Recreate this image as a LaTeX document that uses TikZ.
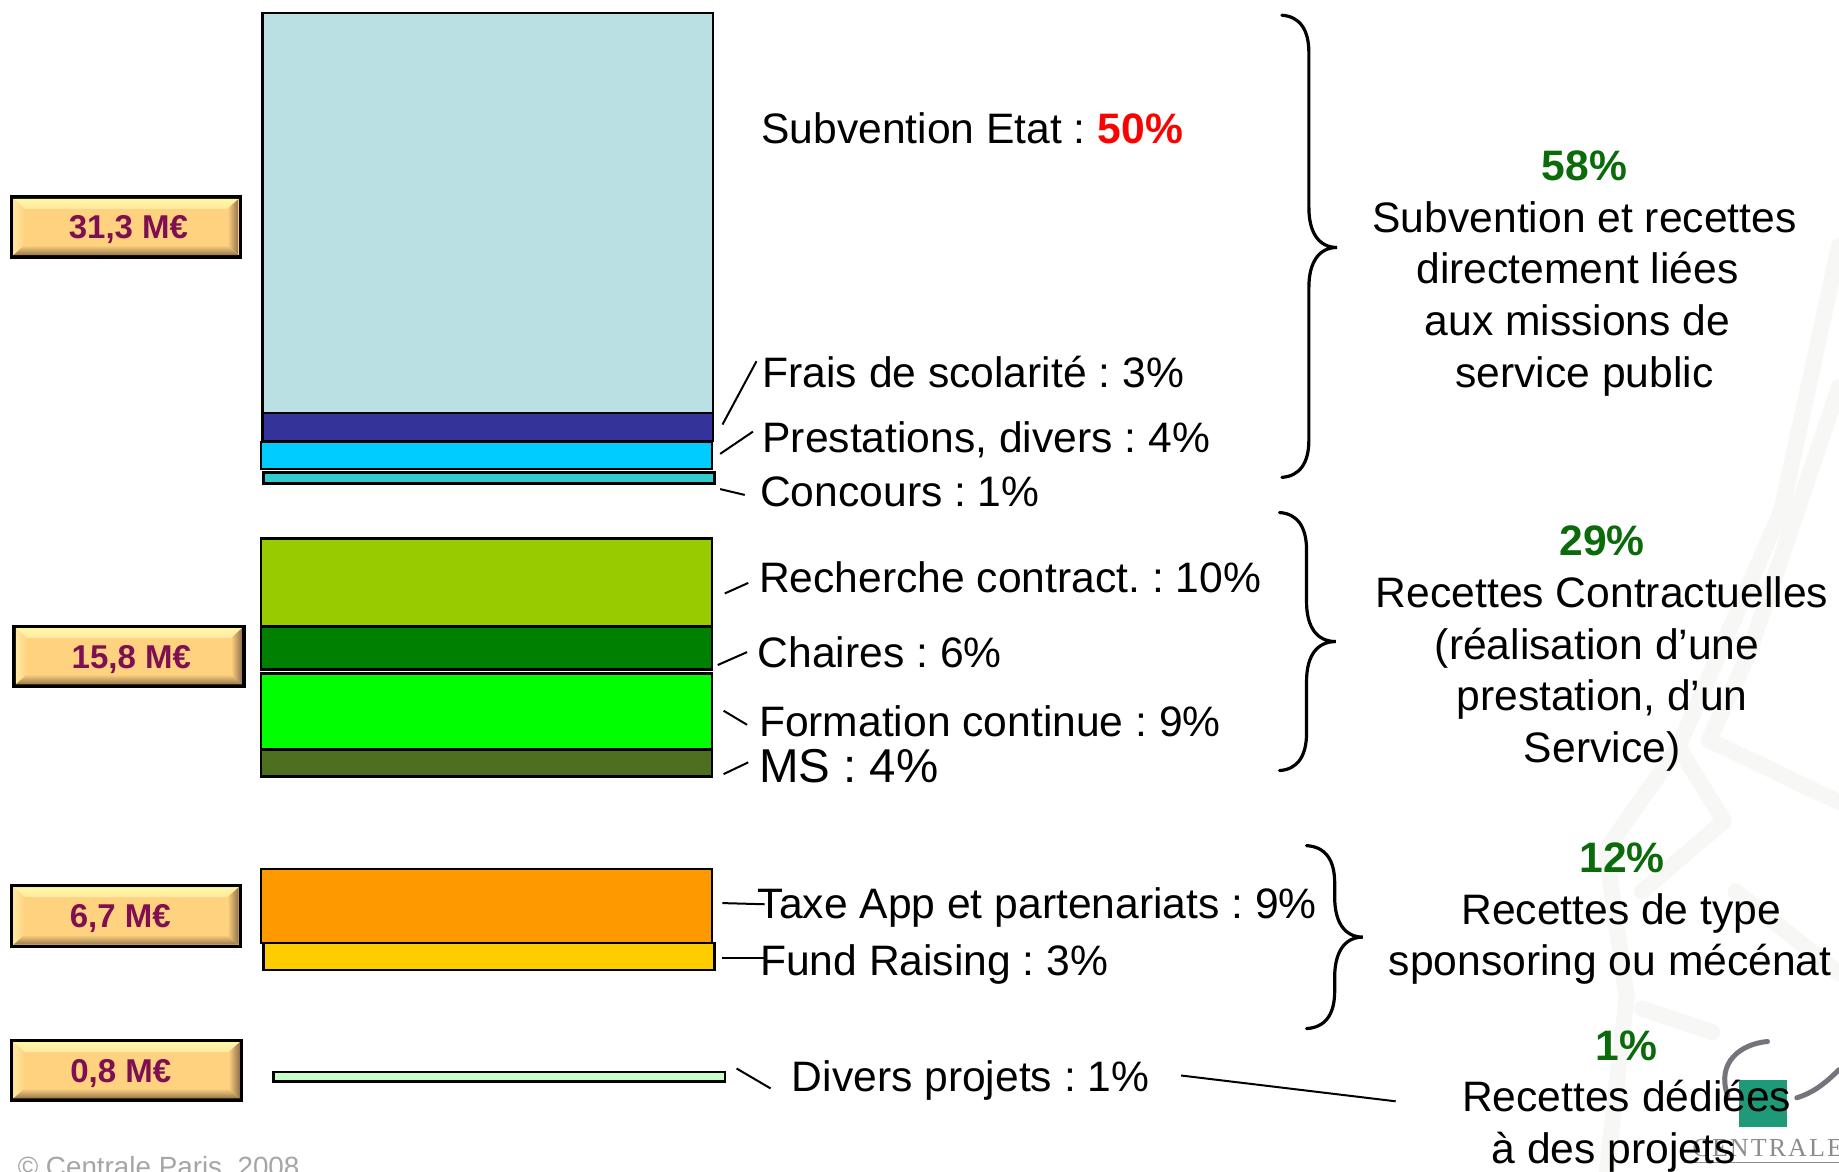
\documentclass[tikz,border=0pt]{standalone}
\usepackage{fontspec}
\setmainfont{Liberation Sans}
\newfontfamily\logofont[LetterSpace=8]{Liberation Serif}
\frenchspacing
\usetikzlibrary{calc}
\definecolor{wine}{HTML}{7F0F50}
\definecolor{pctgreen}{HTML}{0B6B0B}
\definecolor{btn}{HTML}{FFD280}
\definecolor{btnT}{HTML}{FFF8A8}
\definecolor{btnL}{HTML}{FFE8A0}
\definecolor{btnR}{HTML}{8E704A}
\definecolor{btnB}{HTML}{96784C}
\definecolor{wm}{HTML}{F7F7F5}
\definecolor{logogreen}{HTML}{1E9A78}
\definecolor{logogray}{HTML}{74747C}
\definecolor{cA}{HTML}{BAE0E4}
\definecolor{cB}{HTML}{333399}
\definecolor{cC}{HTML}{00CCFF}
\definecolor{cD}{HTML}{33CCCC}
\definecolor{cE}{HTML}{99CC00}
\definecolor{cF}{HTML}{008000}
\definecolor{cG}{HTML}{00FF00}
\definecolor{cH}{HTML}{4C701F}
\definecolor{cI}{HTML}{FF9900}
\definecolor{cJ}{HTML}{FFCC00}
\definecolor{cK}{HTML}{C6FFC6}
\tikzset{
  x=1.1728pt,y=-1.1728pt,
  bar/.style={draw=black,line width=2.6pt,inner sep=0pt,outer sep=0pt,anchor=north west},
  lbl/.style={anchor=base west,inner sep=0pt,font=\fontsize{42.6}{51.6}\selectfont},
  grp/.style={anchor=base,inner sep=0pt,align=center,font=\fontsize{42.6}{51.6}\selectfont},
  btnbox/.style={draw=black,line width=3.4pt,fill=btn,inner sep=0pt,outer sep=0pt,anchor=north west},
  btntext/.style={inner sep=0pt,text=wine,font=\fontsize{33}{38}\selectfont\bfseries},
  tick/.style={draw=black,line width=2pt},
  bracestyle/.style={draw=black,line width=3.2pt,line cap=round},
  wmline/.style={draw=wm,line width=16pt,line cap=round,line join=round}
}
\newcommand{\pct}[1]{{\color{pctgreen}\bfseries #1}}
\newcommand{\trail}[1]{\hspace*{#1}\mbox{}}
% button: name, x0, y0, x1, y1, text, text shift x
\newcommand{\btnshape}[7]{%
  \node[btnbox,minimum width=(#4-#2)*1.1728pt,minimum height=(#5-#3)*1.1728pt] (#1) at (#2,#3) {};
  \shade[top color=btnT,bottom color=btnL] (#2+1.5,#3+1.5) -- (#4-1.5,#3+1.5) -- (#4-11,#3+10) -- (#2+11,#3+10) -- cycle;
  \shade[left color=btnL,right color=btn] (#2+1.5,#3+1.5) -- (#2+11,#3+10) -- (#2+11,#5-10) -- (#2+1.5,#5-1.5) -- cycle;
  \shade[left color=btn,right color=btnR] (#4-1.5,#3+1.5) -- (#4-11,#3+10) -- (#4-11,#5-10) -- (#4-1.5,#5-1.5) -- cycle;
  \shade[top color=btn,bottom color=btnB] (#2+1.5,#5-1.5) -- (#2+11,#5-10) -- (#4-11,#5-10) -- (#4-1.5,#5-1.5) -- cycle;
  \node[btntext] (#1t) at ($(#1.center)+(#7,2.5)$) {#6};
}
% bar: name, x0, y0, x1, y1, colour
\newcommand{\barshape}[6]{%
  \node[bar,fill=#6,minimum width=(#4-#2)*1.1728pt,minimum height=(#5-#3)*1.1728pt] (#1) at (#2,#3) {};
}
% brace: name, tail x, spine x, tip x, y0, ytip, y1
\newcommand{\bracket}[7]{%
  \coordinate (#1a) at (#2,#5);
  \coordinate (#1t) at (#4,#6);
  \coordinate (#1b) at (#2,#7);
  \draw[bracestyle] (#1a) .. controls (#3-8,#5+1) and (#3,#5+12) .. (#3,#5+32)
    -- (#3,#6-34) .. controls (#3,#6-12) and (#3+9,#6) .. (#1t)
    .. controls (#3+9,#6) and (#3,#6+12) .. (#3,#6+34)
    -- (#3,#7-32) .. controls (#3,#7-12) and (#3-8,#7-1) .. (#1b);
}
% tick: name, x0, y0, x1, y1
\newcommand{\ticktwo}[5]{%
  \coordinate (#1a) at (#2,#3);
  \coordinate (#1b) at (#4,#5);
  \draw[tick] (#1a) -- (#1b);
}
\begin{document}
\begin{tikzpicture}
\useasboundingbox (0,0) rectangle (1568,999);
\fill[white] (0,0) rectangle (1568,999);
% faint watermark
\draw[wmline] (1568,210) -- (1519,435) -- (1431,637) -- (1369,725) -- (1387,850) -- (1370,999);
\draw[wmline] (1568,330) -- (1490,560) -- (1457,631) -- (1568,684);
\draw[wmline] (1431,637) -- (1470,700) -- (1400,760);
\draw[wmline] (1480,760) -- (1568,830);
\draw[wmline] (1400,860) -- (1460,880);
% faded logo
\fill[logogreen] (1483,921) rectangle (1523.5,961);
\draw[logogray,line width=5pt,line cap=round] (1507,888) .. controls (1485,890) and (1463,905) .. (1473,934);
\draw[logogray,line width=5pt,line cap=round] (1568,912) .. controls (1555,925) and (1545,932) .. (1532,936);
\node[anchor=base west,inner sep=0pt,text=black!45,font=\logofont\fontsize{26}{30}\selectfont] (logotext) at (1443,986) {CENTRALE};
\draw[black!45,line width=1.2pt] (1436,991) -- (1568,991);
\node[anchor=base west,inner sep=0pt,text=black!35,font=\fontsize{27.8}{30}\selectfont] (copyr) at (15,1003.5) {© Centrale Paris, 2008};
% buttons
\btnshape{b1}{10}{168}{205}{219}{31,3 M€}{2}
\btnshape{b2}{12}{534}{208}{585}{15,8 M€}{2}
\btnshape{b3}{10}{755}{205}{807}{6,7 M€}{-5}
\btnshape{b4}{10}{887}{206}{938}{0,8 M€}{-5}
% bars
\barshape{s1}{224}{11}{608}{352}{cA}
\barshape{s2}{224}{352}{608}{376}{cB}
\barshape{s3}{222.5}{377}{607}{400}{cC}
\barshape{s4}{224.5}{403}{609}{412}{cD}
\barshape{s5}{222.5}{459}{607}{534}{cE}
\barshape{s6}{222.5}{534}{607}{571}{cF}
\barshape{s7}{222.5}{574}{607}{639}{cG}
\barshape{s8}{222.5}{639}{607}{662}{cH}
\barshape{s9}{222.5}{741}{607}{804}{cI}
\barshape{s10}{224.5}{804}{609}{827}{cJ}
\barshape{s11}{233}{914}{618}{922}{cK}
% item labels
\node[lbl] (t1) at (649,122) {Subvention Etat : {\color{red}\bfseries 50\%}};
\node[lbl] (t2) at (650,330) {Frais de scolarité : 3\%};
\node[lbl] (t3) at (650,386) {Prestations, divers : 4\%};
\node[lbl] (t4) at (648,432) {Concours : 1\%};
\node[lbl] (t5) at (647,505) {Recherche contract. : 10\%};
\node[lbl] (t6) at (646,569) {Chaires : 6\%};
\node[lbl] (t7) at (647,628) {Formation continue : 9\%};
\node[lbl,font=\fontsize{47.5}{52}\selectfont] (t8) at (647,667) {MS : 4\%};
\node[lbl] (t9) at (646,783) {Taxe App et partenariats : 9\%};
\node[lbl] (t10) at (648,832) {Fund Raising : 3\%};
\node[lbl] (t11) at (675,931) {Divers projets : 1\%};
% ticks
\ticktwo{k2}{616}{362}{645}{308}
\ticktwo{k3}{614}{387}{642}{368}
\ticktwo{k4}{614}{417}{635}{422}
\ticktwo{k5}{618}{506}{638}{497}
\ticktwo{k6}{612}{567}{637}{556}
\ticktwo{k7}{617}{606}{637}{618}
\ticktwo{k8}{617}{660}{638}{650}
\ticktwo{k9}{616}{770}{652}{771}
\ticktwo{k10}{616}{817}{652}{817}
\ticktwo{k11}{628}{911}{657}{928}
\ticktwo{k12}{1007}{917}{1190}{939}
% braces
\bracket{p1}{1093}{1116}{1140}{13}{211}{407}
\bracket{p2}{1091}{1114}{1139}{437}{547}{657}
\bracket{p3}{1114}{1138}{1162}{721}{799}{877}
% group labels (node base is the last line)
\node[grp] (g1) at (1351,330) {\pct{58\%}\\Subvention et recettes\\directement liées\trail{14pt}\\aux missions de\trail{14pt}\\service public};
\node[grp] (g2) at (1366,650) {\pct{29\%}\\Recettes Contractuelles\\(réalisation d’une\trail{10pt}\\prestation, d’un\\Service)};
\node[grp] (g3) at (1378,832) {\hspace*{12pt}\pct{12\%}\\\hspace*{10pt}Recettes de type\\sponsoring ou mécénat\trail{12pt}};
\node[grp] (g4) at (1387,992) {\pct{1\%}\\Recettes dédiées\\à des projets\trail{26pt}};
\end{tikzpicture}
\end{document}
